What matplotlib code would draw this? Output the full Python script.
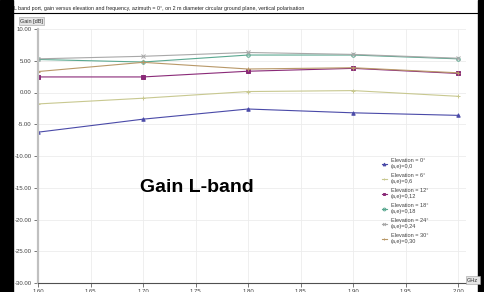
import matplotlib
matplotlib.use("Agg")
import matplotlib.pyplot as plt
from matplotlib.patches import Rectangle

plt.rcParams['font.family'] = ['Liberation Sans', 'DejaVu Sans']
plt.rcParams['axes.unicode_minus'] = False

freq = [1.60, 1.70, 1.80, 1.90, 2.00]
elev_labels = ['Elevation = 0°\n(a,e)=0,0', 'Elevation = 6°\n(a,e)=0,6',
               'Elevation = 12°\n(a,e)=0,12', 'Elevation = 18°\n(a,e)=0,18',
               'Elevation = 24°\n(a,e)=0,24', 'Elevation = 30°\n(a,e)=0,30']
gain_0 = [-6.25, -4.2, -2.6, -3.2, -3.6]
gain_6 = [-1.8, -0.9, 0.15, 0.3, -0.6]
gain_12 = [2.45, 2.45, 3.35, 3.8, 3.0]
gain_18 = [5.2, 4.8, 5.9, 5.9, 5.3]
gain_24 = [5.3, 5.7, 6.3, 6.0, 5.4]
gain_30 = [3.3, 4.75, 3.7, 3.9, 3.1]
xticks = [1.60, 1.65, 1.70, 1.75, 1.80, 1.85, 1.90, 1.95, 2.00]
yticks = [10, 5, 0, -5, -10, -15, -20, -25, -30]

series = [gain_0, gain_6, gain_12, gain_18, gain_24, gain_30]
colors = ['#4a4aa8', '#c8c890', '#8a2a78', '#5aa890', '#a8a8a8', '#b89868']
markers = ['^', '+', 's', 'o', 'x', '+']

W, H = 485, 292
fig = plt.figure(figsize=(W / 100, H / 100), dpi=100)
ax = fig.add_axes([38 / W, 9 / H, 428 / W, 254 / H])

for g, c, m, lab in zip(series, colors, markers, elev_labels):
    mfc = 'none' if m == 'o' else c
    ax.plot(freq, g, color=c, lw=0.8, marker=m, ms=2.5, mfc=mfc, mec=c,
            mew=0.7, label=lab)

ax.set_xlim(1.60, 2.0075)
ax.set_ylim(-30, 10)
ax.set_xticks(xticks)
ax.set_xticklabels(['%.2f' % v for v in xticks])
ax.set_yticks(yticks)
ax.set_yticklabels(['%.2f' % v for v in yticks])
ax.tick_params(labelsize=4.3, length=3, width=0.6, color='#606060', pad=1.5,
               labelcolor='#404040')
ax.grid(True, color='#ececec', lw=0.6)
ax.set_axisbelow(True)
for s in ['top', 'right']:
    ax.spines[s].set_visible(False)
ax.spines['left'].set_color('#c0c0c0')
ax.spines['left'].set_linewidth(1.6)
ax.spines['bottom'].set_color('#505050')
ax.spines['bottom'].set_linewidth(0.8)

leg = ax.legend(loc='upper left', bbox_to_anchor=((380 - 38) / 428, (283 - 156) / 254),
                fontsize=4, frameon=False, handlelength=0.8, handletextpad=0.8,
                labelspacing=0.75, borderaxespad=0, markerscale=0.8)
for t in leg.get_texts():
    t.set_color('#404040')

# frame decorations
fig.patches.append(Rectangle((0, 0), 13 / W, 1, transform=fig.transFigure,
                             color='black', zorder=0))
fig.patches.append(Rectangle((478 / W, 0), 7 / W, 1, transform=fig.transFigure,
                             color='black', zorder=0))
fig.add_artist(plt.Line2D([13 / W, 478 / W], [1 - 12.5 / H, 1 - 12.5 / H],
                          color='black', lw=0.8))
fig.text(14 / W, 1 - 10 / H,
         'L band port, gain versus elevation and frequency, azimuth = 0°, '
         'on 2 m diameter circular ground plane, vertical polarisation',
         fontsize=3.8, color='#202020', va='baseline')
fig.text(20 / W, 1 - 21 / H, 'Gain [dB]', fontsize=4, color='#303030',
         va='center', bbox=dict(boxstyle='square,pad=0.25', fc='#e4e4e4',
                                ec='#a0a0a0', lw=0.4))
fig.text(467 / W, 1 - 280 / H, 'GHz', fontsize=4, color='#303030',
         va='center', bbox=dict(boxstyle='square,pad=0.25', fc='#e4e4e4',
                                ec='#a0a0a0', lw=0.4))
fig.text(197 / W, 1 - 187 / H, 'Gain L-band', fontsize=14, fontweight='bold',
         ha='center', va='center', color='black')

fig.savefig('out.png', dpi=100)
